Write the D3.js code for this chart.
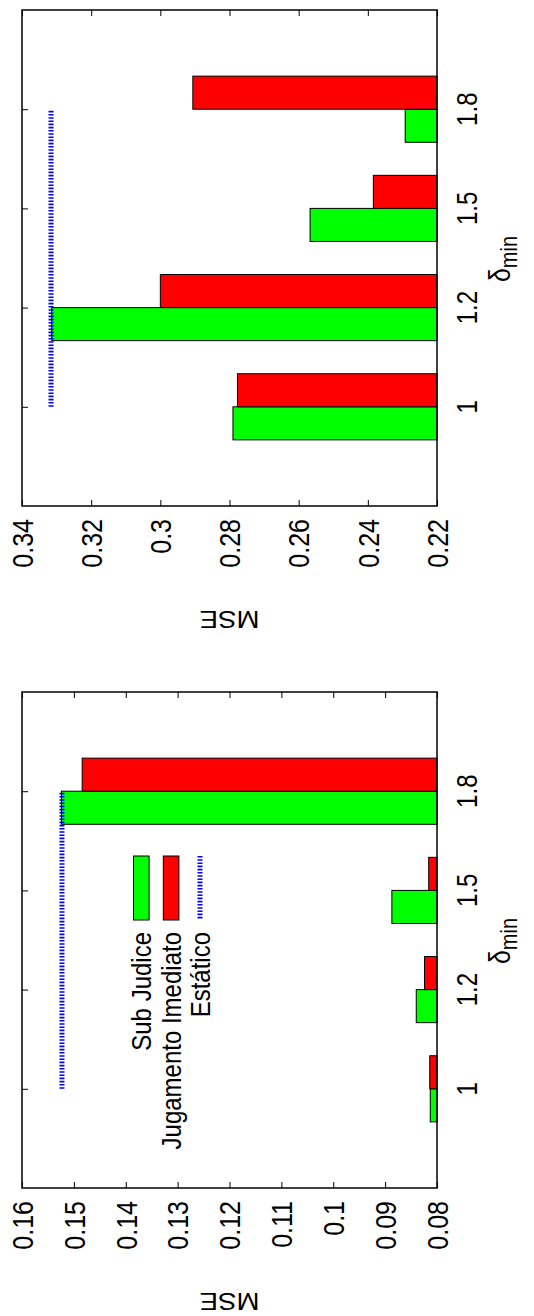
<!DOCTYPE html>
<html>
<head>
<meta charset="utf-8">
<script src="https://cdn.jsdelivr.net/npm/d3@7"></script>
<style>
  html, body { margin: 0; padding: 0; background: #fff; }
  svg { display: block; }
  text { font-family: "Liberation Sans", Arial, Helvetica, sans-serif; fill: #000; }
</style>
</head>
<body>
<svg id="chart" width="534" height="1316"></svg>
<script>
// ---- data ----
const categories = ["1", "1.2", "1.5", "1.8"];
const seriesNames = ["Sub Judice", "Jugamento Imediato", "Estático"];

const subJudiceTop = [0.2790, 0.3314, 0.2567, 0.2292];
const jugamentoTop = [0.2777, 0.3000, 0.2384, 0.2906];
const estaticoTop = 0.3316;
const ticksTop = [0.22, 0.24, 0.26, 0.28, 0.30, 0.32, 0.34];
const tickLabelsTop = ["0.22", "0.24", "0.26", "0.28", "0.3", "0.32", "0.34"];

const subJudiceBottom = [0.0813, 0.0840, 0.0887, 0.1524];
const jugamentoBottom = [0.0814, 0.0824, 0.0816, 0.1484];
const estaticoBottom = 0.1523;
const ticksBottom = [0.08, 0.09, 0.10, 0.11, 0.12, 0.13, 0.14, 0.15, 0.16];
const tickLabelsBottom = ["0.08", "0.09", "0.1", "0.11", "0.12", "0.13", "0.14", "0.15", "0.16"];

const axisTitle = "MSE";
const catTitleMain = "δ";
const catTitleSub = "min";

// ---- layout ----
const svg = d3.select("#chart");
const X0 = 22, X1 = 437;
const SX = 1.2;
const colors = { green: "#00ff00", red: "#ff0000", blue: "#0000ff" };

function panel(cfg) {
  const g = svg.append("g");
  const v = d3.scaleLinear().domain([cfg.vmax, cfg.vmin]).range([X0, X1]);
  const c = d3.scaleLinear().domain([-1, 4]).range([cfg.y1, cfg.y0]);
  const w = 1 / 3;

  // axes ticks (inward)
  g.append("g").attr("transform", `translate(0,${cfg.y1})`)
    .call(d3.axisBottom(v).tickValues(cfg.ticks).tickSize(-6).tickFormat(""))
    .call(a => a.select(".domain").remove());
  g.append("g").attr("transform", `translate(0,${cfg.y0})`)
    .call(d3.axisTop(v).tickValues(cfg.ticks).tickSize(-6).tickFormat(""))
    .call(a => a.select(".domain").remove());
  g.append("g").attr("transform", `translate(${X0},0)`)
    .call(d3.axisLeft(c).tickValues([0, 1, 2, 3]).tickSize(-6).tickFormat(""))
    .call(a => a.select(".domain").remove());
  g.append("g").attr("transform", `translate(${X1},0)`)
    .call(d3.axisRight(c).tickValues([0, 1, 2, 3]).tickSize(-6).tickFormat(""))
    .call(a => a.select(".domain").remove());
  g.selectAll(".tick line").attr("stroke", "#000").attr("stroke-width", 1);

  // bars
  const base = v(cfg.vmin);
  g.selectAll(".bg").data(cfg.green).join("rect")
    .attr("x", d => v(d)).attr("width", d => base - v(d))
    .attr("y", (d, i) => c(i)).attr("height", (d, i) => c(i - w) - c(i))
    .attr("fill", colors.green).attr("stroke", "#000").attr("stroke-width", 1);
  g.selectAll(".br").data(cfg.red).join("rect")
    .attr("x", d => v(d)).attr("width", d => base - v(d))
    .attr("y", (d, i) => c(i + w)).attr("height", (d, i) => c(i) - c(i + w))
    .attr("fill", colors.red).attr("stroke", "#000").attr("stroke-width", 1);

  // Estático line
  g.append("line")
    .attr("x1", v(cfg.est)).attr("x2", v(cfg.est))
    .attr("y1", c(0)).attr("y2", c(3))
    .attr("stroke", colors.blue).attr("stroke-width", 5)
    .attr("stroke-dasharray", "1.6,1.6");

  // frame
  g.append("rect").attr("x", X0).attr("y", cfg.y0)
    .attr("width", X1 - X0).attr("height", cfg.y1 - cfg.y0)
    .attr("fill", "none").attr("stroke", "#000").attr("stroke-width", 1.5);

  // value tick labels
  g.selectAll(".vl").data(cfg.ticks).join("text")
    .attr("transform", d => `translate(${v(d)},${cfg.y1 + 13}) scale(${SX},1) rotate(-90)`)
    .attr("text-anchor", "end").attr("dy", "0.36em")
    .attr("font-size", 25)
    .text((d, i) => cfg.tickLabels[i]);

  // category labels
  g.selectAll(".cl").data(categories).join("text")
    .attr("transform", (d, i) => `translate(467,${c(i)}) scale(${SX},1) rotate(-90)`)
    .attr("text-anchor", "middle").attr("dy", "0.36em")
    .attr("font-size", 24)
    .text(d => d);

  // category title δmin
  const ct = g.append("text")
    .attr("transform", `translate(510,${(cfg.y0 + cfg.y1) / 2 + 1}) scale(${SX},1) rotate(-90)`)
    .attr("text-anchor", "middle").attr("font-size", 25);
  ct.append("tspan").text(catTitleMain);
  ct.append("tspan").attr("font-size", 20).attr("dy", "0.3em").text(catTitleSub);

  // value axis title
  g.append("text")
    .attr("transform", `translate(${(X0 + X1) / 2},${cfg.y1 + 105}) scale(${SX},1) rotate(180)`)
    .attr("text-anchor", "middle").attr("font-size", 23)
    .text(axisTitle);

  return { g, v, c };
}

panel({ y0: 10, y1: 506, vmin: 0.22, vmax: 0.34, ticks: ticksTop, tickLabels: tickLabelsTop,
        green: subJudiceTop, red: jugamentoTop, est: estaticoTop });
const pb = panel({ y0: 692, y1: 1188, vmin: 0.08, vmax: 0.16, ticks: ticksBottom, tickLabels: tickLabelsBottom,
        green: subJudiceBottom, red: jugamentoBottom, est: estaticoBottom });

// legend (bottom panel)
const lg = pb.g.append("g");
const keyY0 = 856, keyY1 = 920, textEnd = 932;
const rows = [
  { name: seriesNames[0], cx: 141.3, type: "box", fill: colors.green },
  { name: seriesNames[1], cx: 171.1, type: "box", fill: colors.red },
  { name: seriesNames[2], cx: 200, type: "line", fill: colors.blue }
];
rows.forEach(r => {
  if (r.type === "box") {
    lg.append("rect").attr("x", r.cx - 7.8).attr("y", keyY0).attr("width", 15.6).attr("height", keyY1 - keyY0)
      .attr("fill", r.fill).attr("stroke", "#000").attr("stroke-width", 1);
  } else {
    lg.append("line").attr("x1", r.cx).attr("x2", r.cx).attr("y1", keyY0).attr("y2", keyY1)
      .attr("stroke", r.fill).attr("stroke-width", 5).attr("stroke-dasharray", "1.6,1.6");
  }
  lg.append("text")
    .attr("transform", `translate(${r.cx},${textEnd}) scale(1.15,1) rotate(-90)`)
    .attr("text-anchor", "end").attr("dy", "0.36em").attr("font-size", 24)
    .text(r.name);
});
</script>
</body>
</html>
